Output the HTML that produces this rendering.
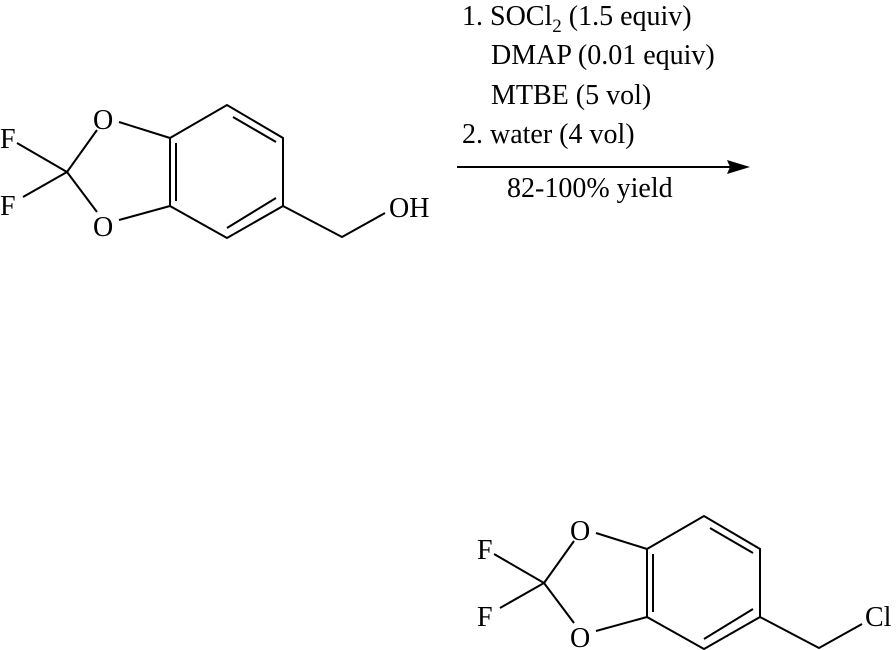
<!DOCTYPE html>
<html><head><meta charset="utf-8"><style>
html,body{margin:0;padding:0;background:#fff;}
svg{display:block;}
text{font-family:"Liberation Serif",serif;fill:#000;}
</style></head><body>
<svg width="896" height="650" viewBox="0 0 896 650" xmlns="http://www.w3.org/2000/svg">
<defs>
<g id="mol" stroke="#000" stroke-width="2" fill="none">
  <line x1="67" y1="172" x2="17" y2="143"/>
  <line x1="67" y1="172" x2="23" y2="197"/>
  <line x1="67" y1="172" x2="97" y2="130"/>
  <line x1="67" y1="172" x2="97" y2="212"/>
  <line x1="119" y1="122" x2="170" y2="138"/>
  <line x1="119" y1="220" x2="170" y2="206"/>
  <polyline points="170,138 227,105 283,138 283,206 227,238 170,206 170,138"/>
  <line x1="233" y1="117" x2="276" y2="142"/>
  <line x1="176" y1="143" x2="176" y2="201"/>
  <line x1="227" y1="228" x2="276" y2="198"/>
  <polyline points="283,206 342,237 385,213"/>
</g>
</defs>
<use href="#mol"/>
<g font-size="28">
<text x="0" y="148">F</text>
<text x="0" y="215">F</text>
<text x="93" y="129">O</text>
<text x="93" y="236">O</text>
<text x="389" y="217">OH</text>
</g>
<use href="#mol" transform="translate(477,411)"/>
<g font-size="28">
<text x="477" y="559">F</text>
<text x="477" y="626">F</text>
<text x="570" y="540">O</text>
<text x="570" y="647">O</text>
<text x="865" y="626">Cl</text>
</g>
<g font-size="28">
<text x="462" y="25">1. SOCl<tspan font-size="19" dy="7">2</tspan><tspan dy="-7"> (1.5 equiv)</tspan></text>
<text x="491" y="64">DMAP (0.01 equiv)</text>
<text x="491" y="104">MTBE (5 vol)</text>
<text x="462" y="143">2. water (4 vol)</text>
<text x="507" y="197">82-100% yield</text>
</g>
<line x1="457" y1="167" x2="732" y2="167" stroke="#000" stroke-width="2"/>
<polygon points="750,167 727,160 730,167 727,174" fill="#000"/>
</svg>
</body></html>
